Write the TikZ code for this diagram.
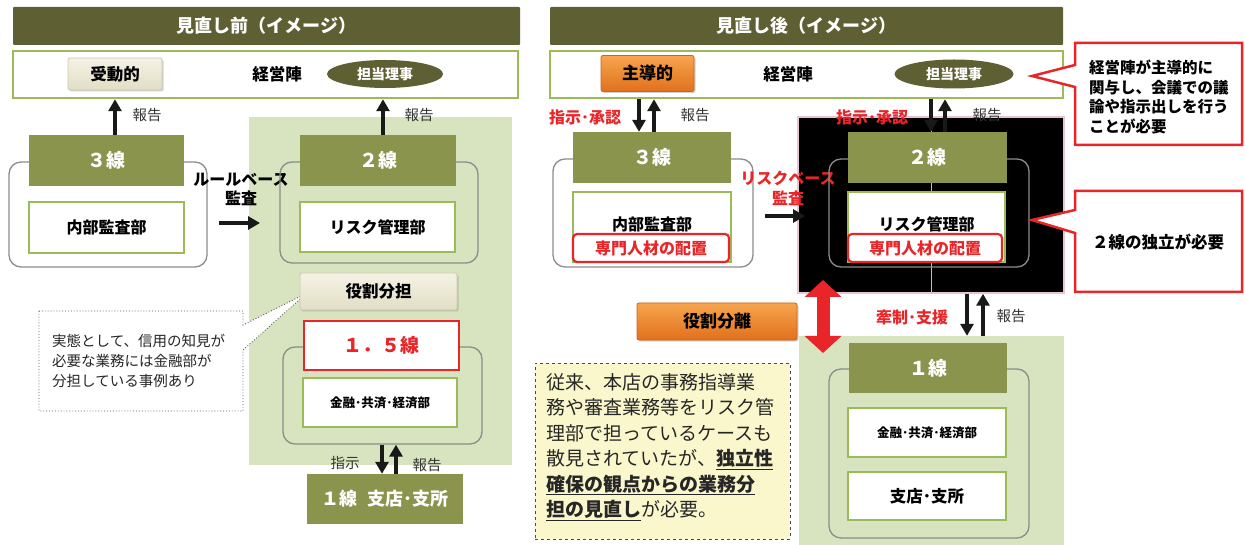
\documentclass[tikz,border=0pt]{standalone}
\usepackage{fontspec}
\setmainfont{Noto Sans CJK JP}
\usetikzlibrary{arrows.meta,shapes.geometric,shadows}
\definecolor{titleol}{HTML}{5E5F33}
\definecolor{headol}{HTML}{8B944D}
\definecolor{gborder}{HTML}{9BBB59}
\definecolor{lgreen}{HTML}{D8E4BF}
\definecolor{beigeT}{HTML}{F4F2E6}
\definecolor{beigeB}{HTML}{E2DEC4}
\definecolor{beigeD}{HTML}{CFCAAE}
\definecolor{orT}{HTML}{F7A54F}
\definecolor{orB}{HTML}{E1701C}
\definecolor{orD}{HTML}{C9651C}
\definecolor{rred}{HTML}{E8262A}
\definecolor{grayln}{HTML}{8C8C8C}
\definecolor{noteyel}{HTML}{FBF7CD}
\definecolor{pinkln}{HTML}{E6C4D4}
\newcommand{\fsz}[2]{\fontsize{#1}{#2}\selectfont}
\tikzset{
  tbar/.style={fill=titleol, text=white, inner sep=0, rounded corners=1pt, font=\bfseries\fsz{18}{21}},
  mg/.style={draw=gborder, line width=2.5pt, fill=white, inner sep=0},
  hdr/.style={fill=headol, text=white, inner sep=0, font=\bfseries\fsz{19}{22}},
  inb/.style={draw=gborder, line width=2.5pt, fill=white, inner sep=0, font=\bfseries\fsz{16}{19}},
  grp/.style={draw=grayln, line width=1.3pt, rounded corners=12pt, inner sep=0},
  bbtn/.style={top color=beigeT, bottom color=beigeB, draw=beigeD, line width=0.8pt, rounded corners=2pt,
     drop shadow={shadow xshift=1.5pt, shadow yshift=-1.5pt, opacity=0.35}, inner sep=0, font=\bfseries\fsz{16.5}{19}},
  obtn/.style={top color=orT, bottom color=orB, draw=orD, line width=0.8pt, rounded corners=2pt,
     drop shadow={shadow xshift=1.5pt, shadow yshift=-1.5pt, opacity=0.35}, inner sep=0, font=\bfseries\fsz{17}{20}},
  ell/.style={ellipse, fill=titleol, text=white, inner sep=0, font=\bfseries\fsz{14}{16}},
  arr/.style={line width=3.2pt, draw=black!90, -{Triangle[width=13pt,length=12pt]}},
  redarr/.style={line width=13pt, draw=rred, {Triangle[width=36pt,length=17pt]}-{Triangle[width=36pt,length=17pt]}},
  lbl/.style={text=black!80, font=\fsz{14.5}{17}, inner sep=0},
  rlbl/.style={text=rred, font=\bfseries\fsz{16}{19}, inner sep=0},
  blbl/.style={font=\bfseries\fsz{16.5}{19}, inner sep=0},
  spb/.style={draw=rred, line width=2.2pt, fill=white, rounded corners=4pt, text=rred, inner sep=0, font=\bfseries\fsz{16}{19}},
  bgr/.style={fill=lgreen, inner sep=0},
  small/.style={font=\bfseries\fsz{12.5}{15}}
}
\begin{document}
\begin{tikzpicture}[x=1pt,y=-1pt]
\useasboundingbox (0,0) rectangle (1245,545);
% ---------- backgrounds ----------
\node[bgr, minimum width=263, minimum height=348] (bgL) at (380.5,291) {};
\node[bgr, minimum width=265, minimum height=209] (bgR) at (931.5,440.5) {};
\node[fill=black, draw=pinkln, line width=1.5pt, inner sep=0, minimum width=266, minimum height=176] (blk) at (931,205) {};
\draw[pinkln!80!gray, line width=1pt] (blk.north) -- (blk.south);

% ---------- helper coordinates ----------
\coordinate (x115) at (115,0);
\coordinate (x383) at (383,0);
\coordinate (x382) at (382,0);
\coordinate (x396) at (396,0);
\coordinate (x639) at (639,0);
\coordinate (x654) at (654,0);
\coordinate (x931) at (931,0);
\coordinate (x945) at (945,0);
\coordinate (x967) at (967,0);
\coordinate (x983) at (983,0);

% ================= LEFT =================
\node[tbar, minimum width=507, minimum height=38] (tL) at (266.5,26) {見直し前（イメージ）};
\node[mg, minimum width=505, minimum height=47] (mL) at (265.5,74.5) {};
\node[bbtn, minimum width=94, minimum height=32] (pasv) at (115,74) {受動的};
\node[blbl] (kL) at (277,74) {経営陣};
\node[ell, minimum width=116, minimum height=28] (riL) at (385,74) {担当理事};

\node[grp, minimum width=198, minimum height=105] (g3L) at (108,214.5) {};
\node[hdr, minimum width=155, minimum height=51] (h3L) at (106.5,160.5) {３線};
\node[inb, minimum width=155, minimum height=51] (i3L) at (106.5,227.5) {内部監査部};

\node[blbl, align=center, font=\bfseries\fsz{16}{19}] (rbL) at (241,189) {ルールベース\\監査};
\coordinate (rbA1) at (219,223);
\coordinate (rbA2) at (260,223);
\draw[arr] (rbA1) -- (rbA2);

\node[grp, minimum width=198, minimum height=101] (g2L) at (379,212.5) {};
\node[hdr, minimum width=156, minimum height=51] (h2L) at (378,160.5) {２線};
\node[inb, minimum width=155, minimum height=50] (i2L) at (377.5,227) {リスク管理部};

% left dotted callout
\draw[dotted, draw=black!65, line width=0.9pt, fill=white]
  (39,311) -- (243,311) -- (243,325) -- (307,293) -- (243,350) -- (243,411) -- (39,411) -- cycle;
\node[anchor=west, align=left, inner sep=0, font=\fsz{14.5}{20}, text=black!85] (lnote) at (52,361)
  {実態として、信用の知見が\\必要な業務には金融部が\\分担している事例あり};

\node[bbtn, minimum width=157, minimum height=37] (yakuL) at (378.5,291.5) {役割分担};
\node[grp, minimum width=199, minimum height=97] (g15) at (382.5,395.5) {};
\node[draw=rred, line width=2.8pt, fill=white, text=rred, inner sep=0, font=\bfseries\fsz{19}{22},
      minimum width=155, minimum height=49] (b15) at (381.5,345.5) {１．５線};
\node[inb, small, minimum width=154, minimum height=49] (i15) at (380,402.5) {金融･共済･経済部};
\node[hdr, font=\bfseries\fsz{18}{21}, minimum width=156, minimum height=50] (h1L) at (385,499) {１線\hspace{10pt}支店･支所};

\draw[arr] (h3L.north -| x115) -- (mL.south -| x115);
\node[lbl] (rep1) at (147,115) {報告};
\draw[arr] (h2L.north -| x383) -- (mL.south -| x383);
\node[lbl] (rep2) at (419,115) {報告};
\draw[arr] (g15.south -| x382) -- (h1L.north -| x382);
\draw[arr] (h1L.north -| x396) -- (g15.south -| x396);
\node[lbl] (shiji) at (345,463) {指示};
\node[lbl] (rep3) at (427,465) {報告};

% ================= RIGHT =================
\node[tbar, minimum width=513, minimum height=38] (tR) at (806.5,26) {見直し後（イメージ）};
\node[mg, minimum width=513, minimum height=47] (mR) at (806.5,74.5) {};
\node[obtn, minimum width=93, minimum height=36] (lead) at (647.5,73.5) {主導的};
\node[blbl] (kR) at (788,74) {経営陣};
\node[ell, minimum width=119, minimum height=29] (riR) at (954,74) {担当理事};

% callout 1
\draw[draw=rred, line width=2.5pt, fill=white]
  (1075,43) -- (1242,43) -- (1242,145) -- (1075,145) -- (1075,87) -- (1032,76) -- (1075,65) -- cycle;
\node[anchor=west, align=left, inner sep=0, font=\bfseries\fsz{15.5}{19.7}] (co1t) at (1089,97)
  {経営陣が主導的に\\関与し、会議での議\\論や指示出しを行う\\ことが必要};

\node[grp, minimum width=200, minimum height=108] (g3R) at (653,213) {};
\node[hdr, minimum width=158, minimum height=51] (h3R) at (652,157.5) {３線};
\node[inb, minimum width=158, minimum height=70] (i3R) at (652,227) {};
\node[blbl, font=\bfseries\fsz{16}{19}] (i3Rt) at (652,224) {内部監査部};
\node[spb, minimum width=156, minimum height=28] (sp3) at (651,248) {専門人材の配置};

\draw[arr] (mR.south -| x639) -- (h3R.north -| x639);
\draw[arr] (h3R.north -| x654) -- (mR.south -| x654);
\node[rlbl] (shR1) at (585,117) {指示･承認};
\node[lbl] (repR1) at (695,115) {報告};

\node[rlbl, align=center, font=\bfseries\fsz{16}{20}] (rbR) at (788,188) {リスクベース\\監査};
\coordinate (rbB1) at (765,216);
\coordinate (rbB2) at (805,216);
\draw[arr] (rbB1) -- (rbB2);

\node[grp, minimum width=200, minimum height=108] (g2R) at (929,213) {};
\node[hdr, minimum width=159, minimum height=51] (h2R) at (927.5,157.5) {２線};
\node[inb, minimum width=157, minimum height=70] (i2R) at (926.5,227) {};
\node[blbl, font=\bfseries\fsz{16}{19}] (i2Rt) at (926.5,224) {リスク管理部};
\node[spb, minimum width=154, minimum height=28] (sp2) at (925,248) {専門人材の配置};

\draw[arr] (mR.south -| x931) -- (h2R.north -| x931);
\draw[arr] (h2R.north -| x945) -- (mR.south -| x945);
\node[rlbl] (shR2) at (872,117) {指示･承認};
\node[lbl] (repR2) at (987,115) {報告};

% callout 2
\draw[draw=rred, line width=2.5pt, fill=white]
  (1075,191) -- (1242,191) -- (1242,292) -- (1075,292) -- (1075,233) -- (1032,220) -- (1075,210) -- cycle;
\node[blbl, font=\bfseries\fsz{16.5}{19}] (co2t) at (1158,242) {２線の独立が必要};

% red double arrow
\coordinate (dA) at (823,280);
\coordinate (dB) at (823,353);
\draw[redarr] (dA) -- (dB);

\node[obtn, minimum width=160, minimum height=37] (yakuR) at (717,321.5) {役割分離};
\node[rlbl] (kensei) at (912,317) {牽制･支援};
\draw[arr] (blk.south -| x967) -- (bgR.north -| x967);
\draw[arr] (bgR.north -| x983) -- (blk.south -| x983);
\node[lbl] (repR3) at (1011,316) {報告};

\node[grp, minimum width=200, minimum height=169] (g1R) at (929,453.5) {};
\node[hdr, minimum width=158, minimum height=50] (h1R) at (928,368) {１線};
\node[inb, small, minimum width=158, minimum height=49] (i1R1) at (927,432.5) {金融･共済･経済部};
\node[inb, font=\bfseries\fsz{16.5}{19}, minimum width=158, minimum height=48] (i1R2) at (927,496) {支店･支所};

% note
\node[draw=black!70, dashed, line width=0.9pt, fill=noteyel, inner sep=0, minimum width=255, minimum height=176] (note) at (662.5,451) {};
\node[anchor=west, align=left, inner sep=0, font=\fsz{19}{25.4}, text=black!85] (ntxt) at (546,447)
  {従来、本店の事務指導業\\務や審査業務等をリスク管\\理部で担っているケースも\\散見されていたが、\underline{\textbf{独立性}}\\\underline{\textbf{確保の観点からの業務分}}\\\underline{\textbf{担の見直し}}が必要。};
\end{tikzpicture}
\end{document}
